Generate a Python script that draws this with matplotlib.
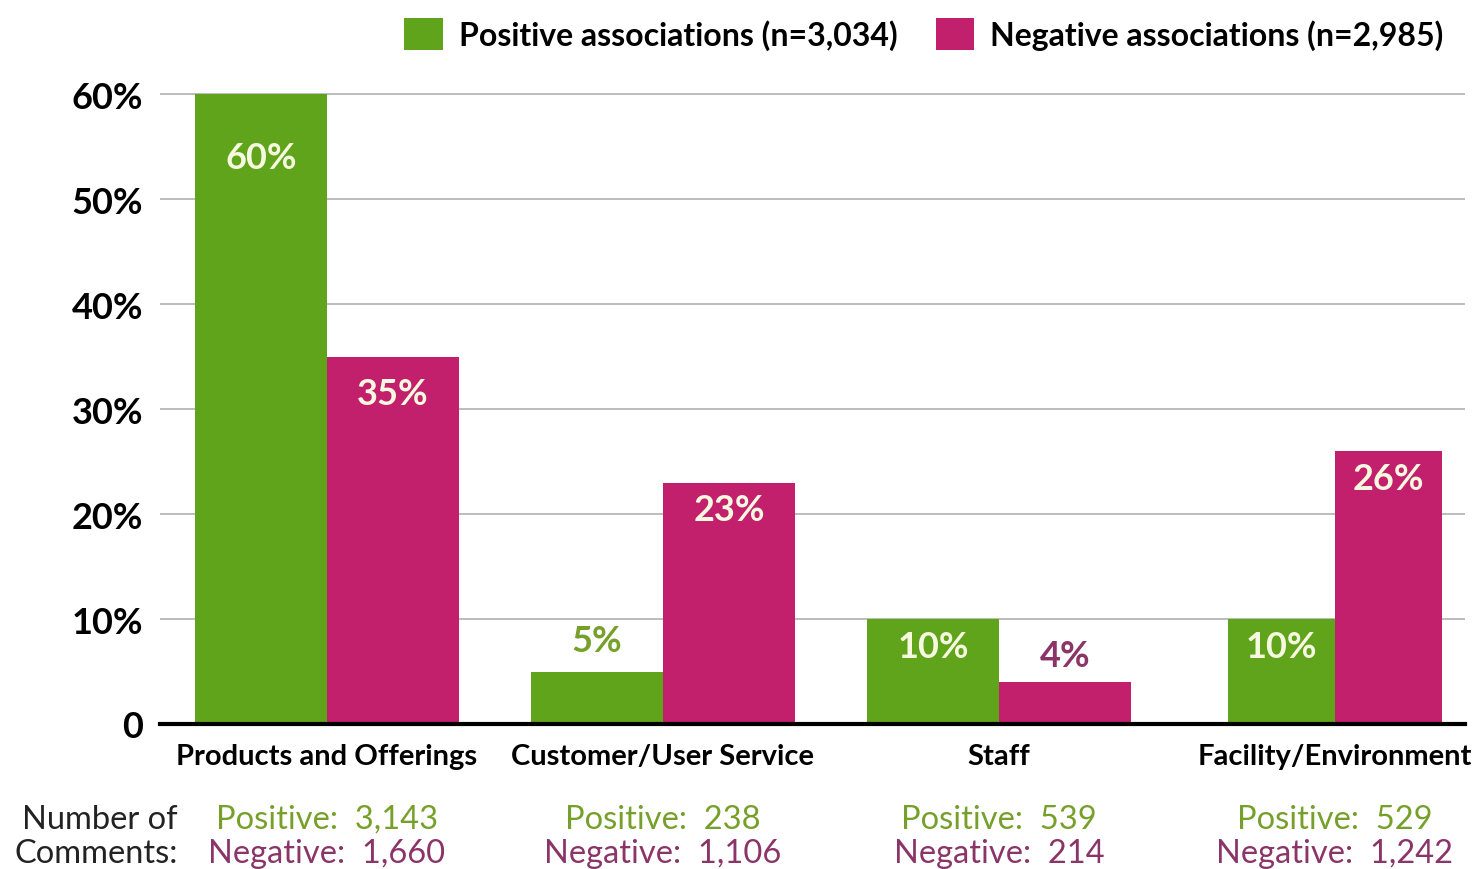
import matplotlib.pyplot as plt
import numpy as np

plt.rcParams['font.family'] = ['Lato', 'DejaVu Sans']

# Datos
categories = ['Products and Offerings', 'Customer/User Service', 'Staff', 'Facility/Environment']
positive_pct = [60, 5, 10, 10]
negative_pct = [35, 23, 4, 26]
positive_counts = ['3,143', '238', '539', '529']
negative_counts = ['1,660', '1,106', '214', '1,242']
positive_label = 'Positive associations (n=3,034)'
negative_label = 'Negative associations (n=2,985)'
yticks = [0, 10, 20, 30, 40, 50, 60]
ytick_labels = ['0', '10%', '20%', '30%', '40%', '50%', '60%']

green = '#60a41c'
magenta = '#c21f6d'
green_text = '#76a02a'
purple_text = '#8a3468'
inside_text = '#f6f9df'

fig = plt.figure(figsize=(14.77, 8.7), dpi=100)
ax = fig.add_axes([160/1477, 145/870, 1305/1477, 635/870])

x = np.arange(len(categories))
w = np.array([0.393, 0.393, 0.393, 0.318])  # el ultimo grupo es mas estrecho

bars_pos = ax.bar(x - w/2, positive_pct, w, color=green, zorder=3, label=positive_label)
bars_neg = ax.bar(x + w/2, negative_pct, w, color=magenta, zorder=3, label=negative_label)

# etiquetas de porcentaje
for xi, v in zip(x - w/2, positive_pct):
    if v >= 8:
        ax.text(xi, v - max(2.6, v*0.1), f'{v}%', ha='center', va='center',
                color=inside_text, fontsize=26, fontweight='bold', zorder=4)
    else:
        ax.text(xi, v + 3, f'{v}%', ha='center', va='center',
                color=green_text, fontsize=26, fontweight='bold', zorder=4)
for xi, v in zip(x + w/2, negative_pct):
    if v >= 8:
        ax.text(xi, v - max(2.6, v*0.1), f'{v}%', ha='center', va='center',
                color=inside_text, fontsize=26, fontweight='bold', zorder=4)
    else:
        ax.text(xi, v + 2.5, f'{v}%', ha='center', va='center',
                color=purple_text, fontsize=26, fontweight='bold', zorder=4)

ax.set_xlim(-0.497, 3.387)
ax.set_ylim(0, 60.5)
ax.set_yticks(yticks)
ax.set_yticklabels(ytick_labels, fontsize=26, fontweight='bold')
ax.set_xticks(x)
ax.set_xticklabels(categories, fontsize=21, fontweight='bold')
ax.tick_params(axis='y', length=0, pad=12)
ax.tick_params(axis='x', length=0, pad=14)

ax.grid(axis='y', color='#b0b0b0', linewidth=1.2, zorder=0)
for s in ['top', 'right', 'left']:
    ax.spines[s].set_visible(False)
ax.spines['bottom'].set_linewidth(3)
ax.spines['bottom'].set_zorder(5)

# numero de comentarios
trans = ax.get_xaxis_transform()
for xi, pc, nc in zip(x, positive_counts, negative_counts):
    ax.text(xi, -0.149, f'Positive:  {pc}', transform=trans, ha='center', va='center',
            color=green_text, fontsize=23.5)
    ax.text(xi, -0.203, f'Negative:  {nc}', transform=trans, ha='center', va='center',
            color=purple_text, fontsize=23.5)
fig.text(178/1477, 1 - 820/870, 'Number of', ha='right', va='center', fontsize=23.5, color='#222222')
fig.text(178/1477, 1 - 854/870, 'Comments:', ha='right', va='center', fontsize=23.5, color='#222222')

fig.legend(handles=[bars_pos, bars_neg], loc='upper right', bbox_to_anchor=(1472/1477, 1 + 10/870),
           ncol=2, frameon=False, prop={'weight': 'bold', 'size': 23},
           handlelength=1.2, handleheight=1.2, handletextpad=0.5, columnspacing=1.2)

plt.savefig('out.png', dpi=100)
